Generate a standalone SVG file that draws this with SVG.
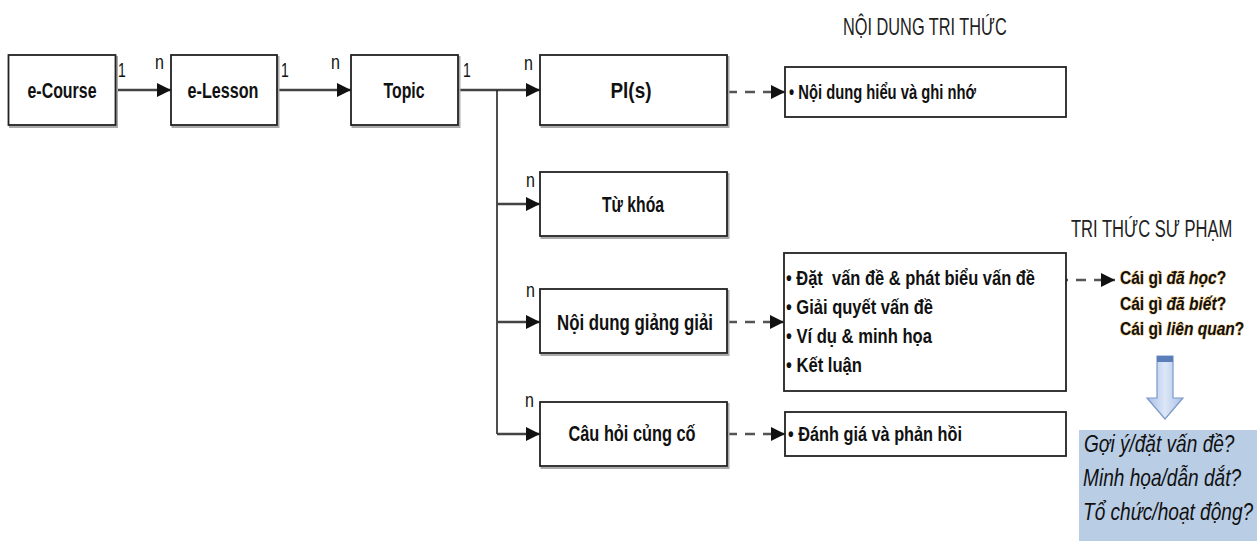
<svg xmlns="http://www.w3.org/2000/svg" width="1257" height="541" viewBox="0 0 1257 541">
<style>
.box{fill:#fff;stroke:#222;stroke-width:1.8}
.sh{fill:none;stroke:#aaa;stroke-width:2}
.lbl{font-family:"Liberation Sans",Arial,sans-serif;font-weight:bold;font-size:22px;fill:#111}
.blt{font-family:"Liberation Sans",Arial,sans-serif;font-weight:bold;font-size:21px;fill:#111}
.hdr{font-family:"Liberation Sans",Arial,sans-serif;font-size:24px;fill:#222}
.mul{font-family:"Liberation Sans",Arial,sans-serif;font-size:20px;fill:#111}
.solid{fill:none;stroke:#444;stroke-width:2.5}
.vline{fill:none;stroke:#222;stroke-width:1.6}
.dash{fill:none;stroke:#555;stroke-width:2.5;stroke-dasharray:10 8}
.q{font-family:"Liberation Sans",Arial,sans-serif;font-weight:bold;font-size:18.5px;fill:#111;stroke:#f5c46e;stroke-width:1.2;stroke-opacity:0.8;paint-order:stroke fill}
.it{font-style:italic}
.blue{font-family:"Liberation Sans",Arial,sans-serif;font-style:italic;font-size:23px;fill:#111}
</style>
<defs>
<marker id="ah" markerUnits="userSpaceOnUse" markerWidth="14" markerHeight="14" refX="14" refY="7" orient="auto">
<path d="M0,0 L14,7 L0,14 z" fill="#111"/>
</marker>
<linearGradient id="ag" x1="0" y1="0" x2="1" y2="0">
<stop offset="0" stop-color="#a9bfe6"/>
<stop offset="0.5" stop-color="#dce7f7"/>
<stop offset="1" stop-color="#a9bfe6"/>
</linearGradient>
</defs>

<g id="connectors">
<path class="solid" d="M116,90 H171" marker-end="url(#ah)"/>
<path class="solid" d="M277,90 H351" marker-end="url(#ah)"/>
<path class="solid" d="M458,90 H540" marker-end="url(#ah)"/>
<path class="vline" d="M497,90 V434"/>
<path class="solid" d="M497,204 H540" marker-end="url(#ah)"/>
<path class="solid" d="M497,322 H540" marker-end="url(#ah)"/>
<path class="solid" d="M497,434 H540" marker-end="url(#ah)"/>
<path class="dash" d="M727,92 H785" marker-end="url(#ah)"/>
<path class="dash" d="M727,322 H784" marker-end="url(#ah)"/>
<path class="dash" d="M727,434 H785" marker-end="url(#ah)"/>
<path class="dash" d="M1040,280 H1115" marker-end="url(#ah)"/>
<text class="mul" transform="translate(118,77) scale(0.7,1)">1</text>
<text class="mul" transform="translate(155,69) scale(0.8,1)">n</text>
<text class="mul" transform="translate(281,77) scale(0.7,1)">1</text>
<text class="mul" transform="translate(331,69) scale(0.8,1)">n</text>
<text class="mul" transform="translate(463,77) scale(0.7,1)">1</text>
<text class="mul" transform="translate(524,70) scale(0.8,1)">n</text>
<text class="mul" transform="translate(526,187) scale(0.8,1)">n</text>
<text class="mul" transform="translate(526,297) scale(0.8,1)">n</text>
<text class="mul" transform="translate(525,407) scale(0.8,1)">n</text>
</g>

<g id="ecourse">
<rect class="sh" x="10" y="57" width="107" height="70"/>
<rect class="box" x="8.5" y="55" width="107" height="70"/>
<text class="lbl" x="62" y="98" text-anchor="middle" textLength="69" lengthAdjust="spacingAndGlyphs">e-Course</text>
</g>
<g id="elesson">
<rect class="sh" x="172.5" y="57" width="106" height="70"/>
<rect class="box" x="171" y="55" width="106" height="70"/>
<text class="lbl" x="223" y="98" text-anchor="middle" textLength="71" lengthAdjust="spacingAndGlyphs">e-Lesson</text>
</g>
<g id="topic">
<rect class="sh" x="352.5" y="57" width="107" height="70"/>
<rect class="box" x="351" y="55" width="107" height="70"/>
<text class="lbl" x="404" y="98" text-anchor="middle" textLength="41" lengthAdjust="spacingAndGlyphs">Topic</text>
</g>
<g id="pls">
<rect class="sh" x="541.5" y="57" width="187" height="70"/>
<rect class="box" x="540" y="55" width="187" height="70"/>
<text class="lbl" x="631" y="98" text-anchor="middle" textLength="41" lengthAdjust="spacingAndGlyphs">Pl(s)</text>
</g>
<g id="tukhoa">
<rect class="sh" x="541.5" y="174" width="187" height="64"/>
<rect class="box" x="540" y="172" width="187" height="64"/>
<text class="lbl" x="633" y="212" text-anchor="middle" textLength="62" lengthAdjust="spacingAndGlyphs">Từ khóa</text>
</g>
<g id="noidunggianggiai">
<rect class="sh" x="541.5" y="291" width="187" height="64"/>
<rect class="box" x="540" y="289" width="187" height="64"/>
<text class="lbl" x="635" y="330" text-anchor="middle" textLength="156" lengthAdjust="spacingAndGlyphs">Nội dung giảng giải</text>
</g>
<g id="cauhoicungco">
<rect class="sh" x="541.5" y="404" width="187" height="64"/>
<rect class="box" x="540" y="402" width="187" height="64"/>
<text class="lbl" x="632" y="441" text-anchor="middle" textLength="127" lengthAdjust="spacingAndGlyphs">Câu hỏi củng cố</text>
</g>

<g id="noidungtrithuc">
<text class="hdr" transform="translate(843,35) scale(0.68,1)">NỘI DUNG TRI THỨC</text>
<rect class="box" x="785" y="67" width="281" height="50"/>
<text class="blt" x="789" y="99" textLength="187" lengthAdjust="spacingAndGlyphs">• Nội dung hiểu và ghi nhớ</text>
</g>

<g id="bulletbox">
<rect class="box" x="784" y="253" width="282" height="138"/>
<text class="blt" x="786" y="285" textLength="249" lengthAdjust="spacingAndGlyphs" xml:space="preserve">• Đặt  vấn đề &amp; phát biểu vấn đề</text>
<text class="blt" x="786" y="314" textLength="147" lengthAdjust="spacingAndGlyphs">• Giải quyết vấn đề</text>
<text class="blt" x="786" y="343" textLength="146" lengthAdjust="spacingAndGlyphs">• Ví dụ &amp; minh họa</text>
<text class="blt" x="786" y="372" textLength="76" lengthAdjust="spacingAndGlyphs">• Kết luận</text>
</g>

<g id="danhgia">
<rect class="box" x="785" y="412" width="281" height="44"/>
<text class="blt" x="788" y="441" textLength="174" lengthAdjust="spacingAndGlyphs">• Đánh giá và phản hồi</text>
</g>

<g id="trithucsupham">
<text class="hdr" transform="translate(1071,237) scale(0.69,1)">TRI THỨC SƯ PHẠM</text>
<text class="q" transform="translate(1120,284) scale(0.84,1)">Cái gì <tspan class="it">đã học</tspan>?</text>
<text class="q" transform="translate(1120,310) scale(0.84,1)">Cái gì <tspan class="it">đã biết</tspan>?</text>
<text class="q" transform="translate(1120,335) scale(0.84,1)">Cái gì <tspan class="it">liên quan</tspan>?</text>
</g>

<g id="downarrow">
<path d="M1157,356 H1173 V398 H1183 L1165,419 L1147,398 H1157 Z" fill="url(#ag)" stroke="#7b98c9" stroke-width="1.2"/>
<rect x="1157" y="356" width="16" height="6" fill="#5b7db9"/>
</g>

<g id="bluebox">
<rect x="1079" y="430" width="178" height="111" fill="#b9cde5"/>
<text class="blue" transform="translate(1084,452) scale(0.83,1)">Gợi ý/đặt vấn đề?</text>
<text class="blue" transform="translate(1083,486) scale(0.83,1)">Minh họa/dẫn dắt?</text>
<text class="blue" transform="translate(1083,520) scale(0.83,1)">Tổ chức/hoạt động?</text>
</g>
</svg>
